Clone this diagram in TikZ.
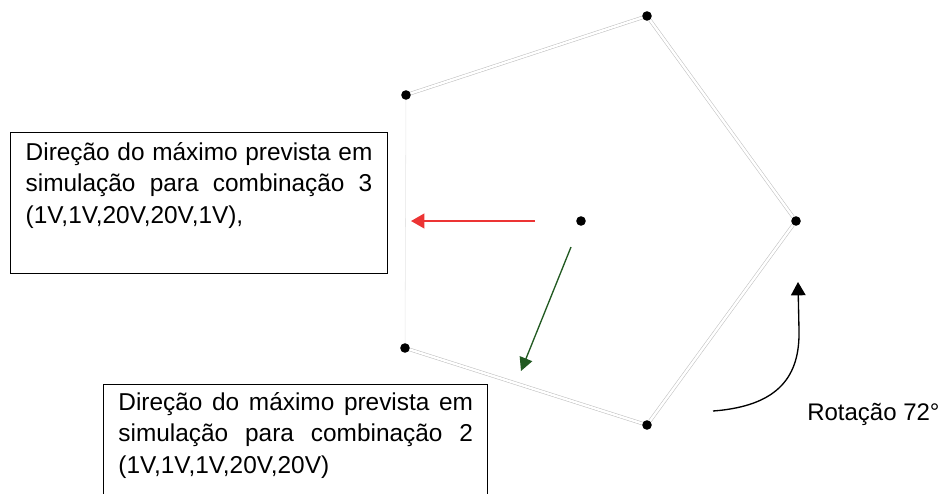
\documentclass[tikz,border=0pt]{standalone}
\usepackage{fontspec}
\setmainfont{Liberation Sans}
\usetikzlibrary{arrows.meta}

\begin{document}
\begin{tikzpicture}[
x=0.75pt, y=-0.75pt,
dot/.style={
circle,
fill=black,
inner sep=0pt,
minimum size=7.2pt
},
edge/.style={
draw=gray!50,
double=white,
double distance=1.8pt,
line width=0.4pt
},
infobox/.style={
draw,
line width=1.1pt,
anchor=north west,
align=justify,
inner ysep=0pt,
font=\fontsize{18.3pt}{23.6pt}\selectfont
}
]

\clip (0,0) rectangle (939,493);

% vertices of the pentagon
\node[dot] (top) at (647,16) {};
\node[dot] (ul) at (406,95) {};
\node[dot] (right) at (796,221) {};
\node[dot] (ll) at (405,348) {};
\node[dot] (bottom) at (647,425) {};
\node[dot] (centre) at (581,221) {};

\draw[edge] (ul)--(top);
\draw[edge] (top)--(right);
\draw[edge] (right)--(bottom);
\draw[edge] (bottom)--(ll);
\draw[draw=gray!20, line width=0.4pt] (ll)--(ul);

% directions of the maximum
\coordinate (redA) at (535,221);
\coordinate (redB) at (411,221);
\draw[draw={rgb,255:red,236;green,52;blue,52}, line width=1.5pt,
-{Triangle[length=10pt,width=11pt]}] (redA)--(redB);

\coordinate (greenA) at (571,247);
\coordinate (greenB) at (521,371);
\draw[draw={rgb,255:red,34;green,90;blue,34}, line width=1pt,
-{Triangle[length=10pt,width=10pt]}] (greenA)--(greenB);

% rotation
\coordinate (rotA) at (713,411);
\coordinate (rotB) at (798,282);
\draw[line width=1pt, -{Triangle[length=10pt,width=11pt]}]
(rotA) .. controls (780,406) and (800,375) .. (799,330) -- (rotB);

\node[anchor=base west, inner sep=0pt, font=\fontsize{18pt}{23.6pt}\selectfont]
(rot) at (807,420) {Rotação 72°};

\node[infobox, inner xsep=11.25pt, text width=260pt, text height=20.5pt, text depth=85.25pt]
(comb3) at (10,132) {Direção do máximo prevista em simulação para combinação 3 (1V,1V,20V,20V,1V),};

\node[infobox, inner xsep=11pt, text width=266pt, text height=19pt, text depth=90pt]
(comb2) at (103,384) {Direção do máximo prevista em simulação para combinação 2 (1V,1V,1V,20V,20V)};

\end{tikzpicture}
\end{document}
